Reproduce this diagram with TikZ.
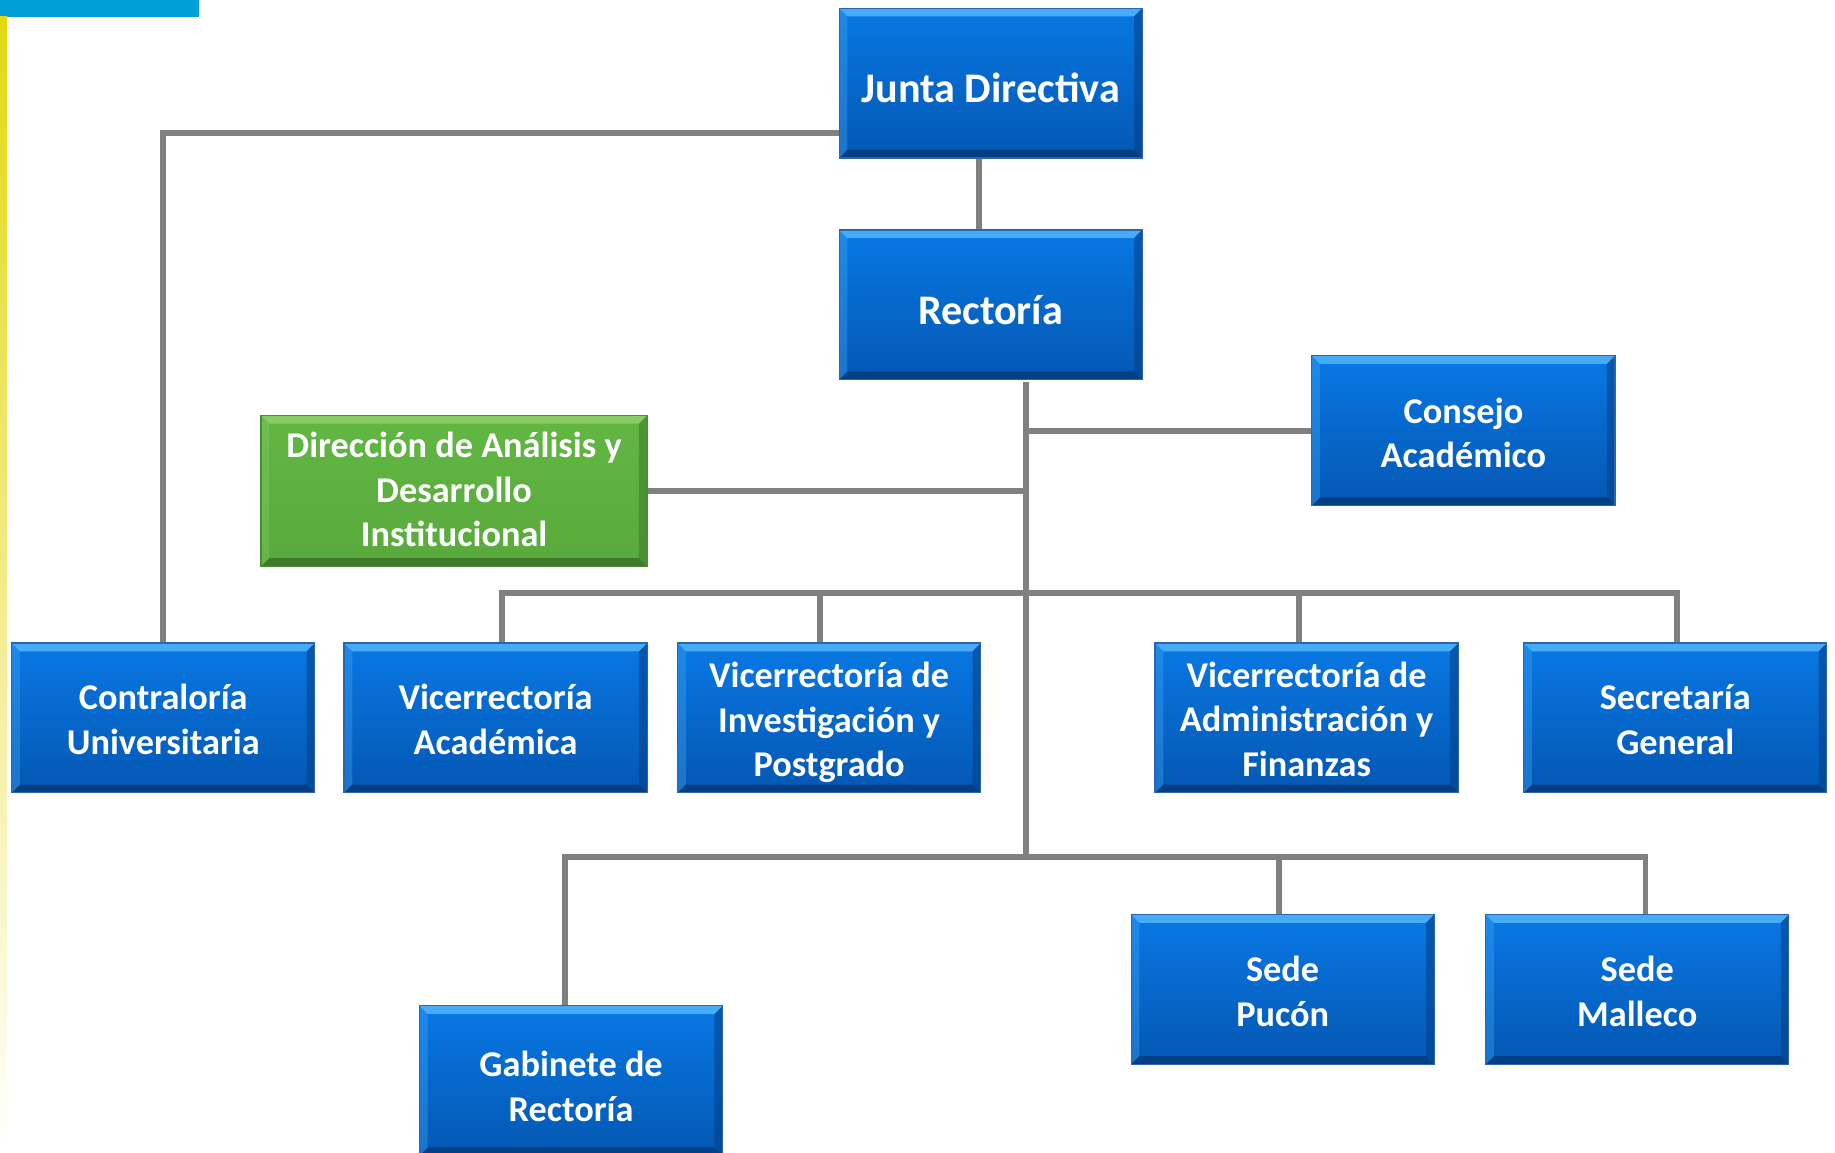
\documentclass[tikz,border=0pt]{standalone}
\usepackage{fontspec}
\setmainfont{Carlito}
\usetikzlibrary{calc}
\definecolor{barblue}{HTML}{009FDA}
\definecolor{ystripe}{HTML}{E3D811}
\definecolor{boxtop}{HTML}{0878E4}
\definecolor{boxbot}{HTML}{0457B2}
\definecolor{boxedge}{HTML}{2E64AC}
\definecolor{bevlight}{HTML}{46ACF8}
\definecolor{bevdark}{HTML}{033F85}
\definecolor{gtop}{HTML}{62B743}
\definecolor{gbot}{HTML}{58AA3C}
\definecolor{gedge}{HTML}{4C8A35}
\definecolor{gbevlight}{HTML}{86CD66}
\definecolor{gbevdark}{HTML}{3E7A2A}
\definecolor{linegray}{HTML}{808080}
\newcommand\mybevel[2]{%
  \fill[#1] (path picture bounding box.north west) -- (path picture bounding box.north east)
    -- ([shift={(-7pt,-7pt)}]path picture bounding box.north east)
    -- ([shift={(7pt,-7pt)}]path picture bounding box.north west) -- cycle;
  \fill[#2] (path picture bounding box.south west) -- (path picture bounding box.south east)
    -- ([shift={(-7pt,7pt)}]path picture bounding box.south east)
    -- ([shift={(7pt,7pt)}]path picture bounding box.south west) -- cycle;
  \fill[#2,opacity=0.55] (path picture bounding box.north east) -- (path picture bounding box.south east)
    -- ([shift={(-7pt,7pt)}]path picture bounding box.south east)
    -- ([shift={(-7pt,-7pt)}]path picture bounding box.north east) -- cycle;
  \fill[#1,opacity=0.35] (path picture bounding box.north west) -- (path picture bounding box.south west)
    -- ([shift={(7pt,7pt)}]path picture bounding box.south west)
    -- ([shift={(7pt,-7pt)}]path picture bounding box.north west) -- cycle;
}
\newcommand\bxt[2]{\raisebox{-#1}[\height][\depth]{\begin{tabular}{@{}c@{}}#2\end{tabular}}}
\tikzset{
  orgbox/.style={draw=boxedge, line width=1pt, top color=boxtop, bottom color=boxbot,
    minimum width=259pt, minimum height=128pt, inner sep=0pt, text=white,
    font=\bfseries\fontsize{31}{38}\selectfont,
    path picture={\mybevel{bevlight}{bevdark}}},
  bigbox/.style={orgbox, font=\bfseries\fontsize{36}{43}\selectfont},
  greenbox/.style={orgbox, draw=gedge, top color=gtop, bottom color=gbot,
    minimum width=330pt, minimum height=129pt,
    path picture={\mybevel{gbevlight}{gbevdark}}},
  conn/.style={draw=linegray, line width=5pt},
}
\begin{document}
\begin{tikzpicture}[x=1pt,y=-1pt]
\useasboundingbox (0,0) rectangle (1568,985.2);
\fill[white] (0,0) rectangle (1568,985.2);
% decorations
\fill[barblue] (0,0) rectangle (170,14.5);
\shade[top color=ystripe, middle color=ystripe!45, bottom color=white] (0,14.5) rectangle (6,985.2);

% nodes
\node[bigbox] (junta) at (846.5,71) {\bxt{8pt}{Junta Directiva}};
\node[bigbox] (rect) at (846.5,260.5) {\bxt{8pt}{Rectoría}};
\node[orgbox] (consejo) at (1250.5,368) {\bxt{5pt}{Consejo\\Académico}};
\node[greenbox] (dir) at (388,419.5) {\bxt{2pt}{Dirección de Análisis y\\Desarrollo\\Institucional}};
\node[orgbox] (contra) at (139.5,613.5) {\bxt{4.5pt}{Contraloría\\Universitaria}};
\node[orgbox] (vacad) at (423.5,613.5) {\bxt{4.5pt}{Vicerrectoría\\Académica}};
\node[orgbox] (vinv) at (708.5,613.5) {\bxt{4.5pt}{Vicerrectoría de\\Investigación y\\Postgrado}};
\node[orgbox] (vadm) at (1116.5,613.5) {\bxt{4pt}{Vicerrectoría de\\Administración y\\Finanzas}};
\node[orgbox] (secr) at (1431.5,613.5) {\bxt{4.5pt}{Secretaría\\General}};
\node[orgbox] (pucon) at (1096,845.5) {\bxt{5pt}{Sede\\Pucón}};
\node[orgbox] (malleco) at (1399,845.5) {\bxt{5pt}{Sede\\Malleco}};
\node[orgbox] (gab) at (488,923.5) {\bxt{8pt}{Gabinete de\\Rectoría}};

% connectors
\draw[conn] ([yshift=-43pt]junta.west) -| (contra.north);
\draw[conn] ([xshift=-10pt]junta.south) -- ([xshift=-10pt]rect.north);
\coordinate (t0) at ([xshift=30pt,yshift=-1pt]rect.south);
\coordinate (b1) at (t0 |- 0,507);
\coordinate (b2) at (t0 |- 0,732);
\draw[conn] (t0) -- (b2);
\draw[conn] (consejo.west) -- (consejo.west -| t0);
\draw[conn] (dir.east) -- (dir.east -| t0);
\draw[conn] ([xshift=5.5pt]vacad.north) |- (b1);
\draw[conn] ([xshift=1.5pt]secr.north) |- (b1);
\draw[conn] ([xshift=-7.5pt]vinv.north) -- ([xshift=-7.5pt]vinv.north |- b1);
\draw[conn] ([xshift=-6.5pt]vadm.north) -- ([xshift=-6.5pt]vadm.north |- b1);
\draw[conn] ([xshift=-5pt]gab.north) |- (b2);
\draw[conn] ([xshift=7pt]malleco.north) |- (b2);
\draw[conn] ([xshift=-3pt]pucon.north) -- ([xshift=-3pt]pucon.north |- b2);
\end{tikzpicture}
\end{document}
